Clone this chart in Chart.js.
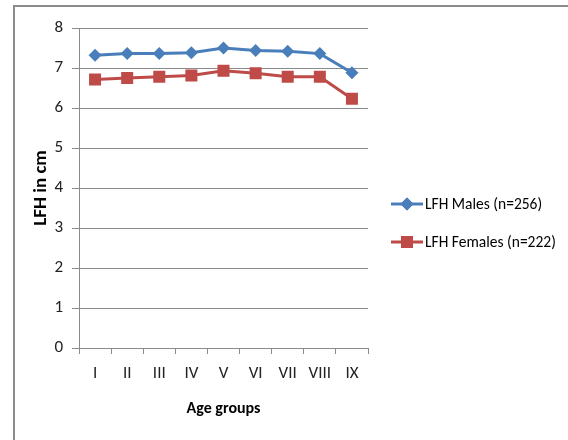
<!DOCTYPE html>
<html>
<head>
<meta charset="utf-8">
<script src="https://cdn.jsdelivr.net/npm/chart.js@4/dist/chart.umd.min.js"></script>
<style>
  body { margin: 0; background: #fff; }
  #wrap { position: relative; width: 568px; height: 440px; overflow: hidden; }
  #frame {
    position: absolute; left: 13px; top: 5px; width: 600px; height: 500px;
    border-top: 2px solid #8c8c8c; border-left: 2px solid #8c8c8c;
  }
  #chart { position: absolute; left: 0; top: 0; }
</style>
</head>
<body>
<div id="wrap">
  <div id="frame"></div>
  <canvas id="chart" width="568" height="440"></canvas>
</div>
<script>
// age groups on the x axis
const ageGroups = ["I", "II", "III", "IV", "V", "VI", "VII", "VIII", "IX"];

// LFH values (cm)
const malesLFH = [7.32, 7.36, 7.36, 7.38, 7.50, 7.44, 7.42, 7.36, 6.88];
const femalesLFH = [6.71, 6.75, 6.78, 6.81, 6.93, 6.87, 6.78, 6.78, 6.23];

const seriesLabels = ["LFH Males (n=256)", "LFH Females (n=222)"];

const FONT = "Carlito, 'Liberation Sans Narrow', 'Open Sans', sans-serif";
const GRID = "#8a8a8a";

// 🔹 Legend drawn at the right, line with marker like the original
const sideLegend = {
  id: "sideLegend",
  afterDraw(chart) {
    const ctx = chart.ctx;
    const rows = [204, 242];
    ctx.save();
    chart.data.datasets.forEach((ds, i) => {
      let y = rows[i];
      ctx.strokeStyle = ds.borderColor;
      ctx.lineWidth = ds.borderWidth;
      ctx.beginPath();
      ctx.moveTo(391, y);
      ctx.lineTo(423, y);
      ctx.stroke();
      ctx.fillStyle = ds.backgroundColor;
      Chart.helpers.drawPoint(ctx, {
        pointStyle: ds.pointStyle,
        radius: ds.pointRadius,
        borderWidth: 0,
        rotation: 0,
      }, 407, y);
      ctx.fill();
      ctx.fillStyle = "#000";
      ctx.font = "15.5px " + FONT;
      ctx.textBaseline = "middle";
      ctx.fillText(ds.label, 425, y + 1);
    });
    ctx.restore();
  },
};

new Chart(document.getElementById("chart"), {
  type: "line",
  data: {
    labels: ageGroups,
    datasets: [
      {
        label: seriesLabels[0],
        data: malesLFH,
        borderColor: "#4a7ebb",
        backgroundColor: "#4a7ebb",
        borderWidth: 3,
        pointStyle: "rectRot",
        pointRadius: 6.5,
        pointBorderWidth: 0,
        tension: 0,
      },
      {
        label: seriesLabels[1],
        data: femalesLFH,
        borderColor: "#be4b48",
        backgroundColor: "#be4b48",
        borderWidth: 3,
        pointStyle: "rect",
        pointRadius: 8.5,
        pointBorderWidth: 0,
        tension: 0,
      },
    ],
  },
  options: {
    responsive: false,
    animation: false,
    layout: { padding: { left: 0, top: 28, right: 200, bottom: 0 } },
    plugins: {
      legend: { display: false },
      tooltip: { enabled: false },
    },
    scales: {
      x: {
        offset: true,
        afterFit: (scale) => { scale.height = 92; },
        grid: {
          offset: true,
          drawOnChartArea: false,
          color: GRID,
          tickLength: 6,
        },
        border: { color: GRID, width: 1 },
        ticks: {
          color: "#222",
          padding: 10,
          font: { family: FONT, size: 17 },
        },
        title: {
          display: true,
          text: "Age groups",
          color: "#000",
          font: { family: FONT, size: 16, weight: "bold" },
          padding: { top: 0, bottom: 21 },
        },
      },
      y: {
        min: 0,
        max: 8,
        afterFit: (scale) => { scale.width = 79; },
        grid: { color: GRID, tickLength: 7 },
        border: { color: GRID, width: 1 },
        ticks: {
          stepSize: 1,
          color: "#222",
          padding: 9,
          font: { family: FONT, size: 17 },
        },
        title: {
          display: true,
          text: "LFH in cm",
          color: "#000",
          font: { family: FONT, size: 19, weight: "bold" },
          padding: { top: 30, bottom: 0 },
        },
      },
    },
  },
  plugins: [sideLegend],
});
</script>
</body>
</html>
